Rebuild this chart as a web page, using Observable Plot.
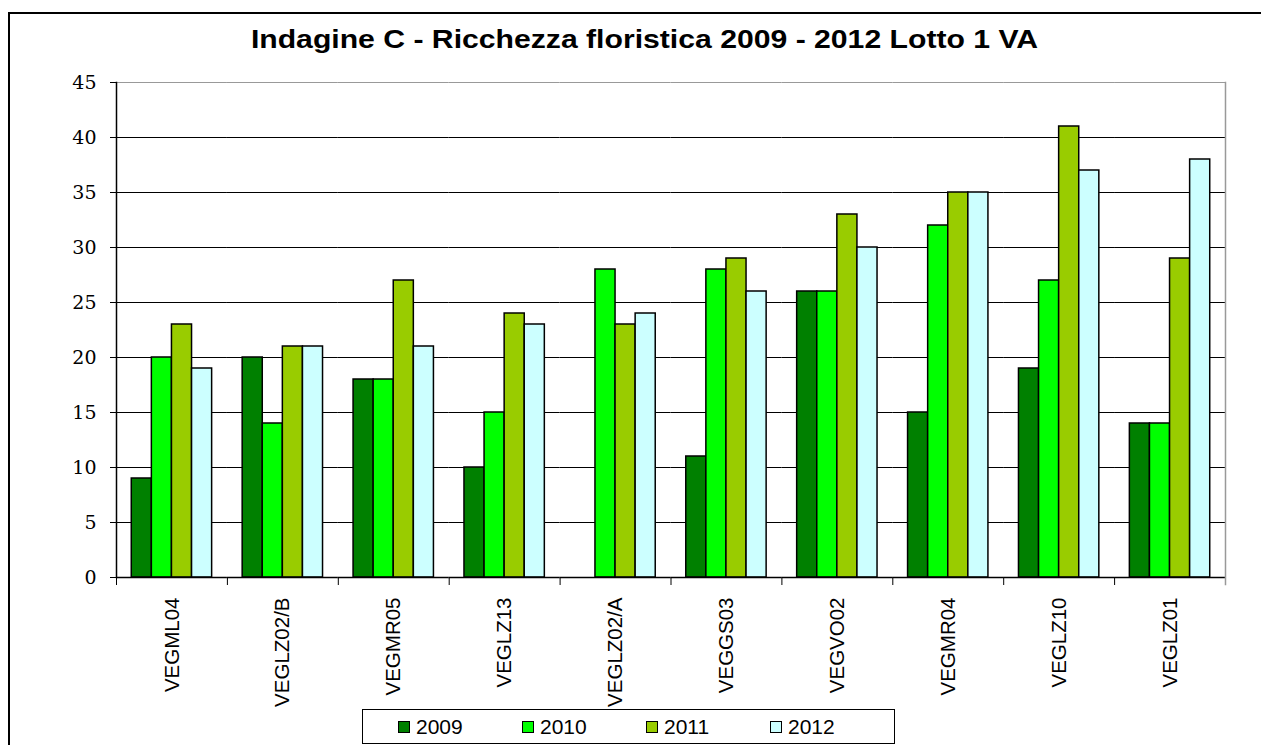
<!DOCTYPE html>
<html>
<head>
<meta charset="utf-8">
<script src="https://cdn.jsdelivr.net/npm/d3@7"></script>
<script src="https://cdn.jsdelivr.net/npm/@observablehq/plot@0.6"></script>
<style>
  html, body { margin: 0; padding: 0; background: #fff; overflow: hidden; }
  body { width: 1261px; height: 745px; position: relative; font-family: "Liberation Sans", Arial, sans-serif; }
  #border { position: absolute; left: 8px; top: 12px; width: 1253px; height: 733px; border-left: 2px solid #000; border-top: 2px solid #000; box-sizing: border-box; }
  #chart { position: absolute; left: 0; top: 0; }
  #title { position: absolute; left: 0; top: 26px; width: 1289px; text-align: center; font-weight: bold; font-size: 26px; line-height: 26px; transform: scaleX(1.16); transform-origin: center; color: #000; white-space: nowrap; }
  #legend { position: absolute; left: 362px; top: 709px; width: 533px; height: 35px; border: 1px solid #000; box-sizing: border-box; background: #fff; display: flex; align-items: center; padding-left: 35px; }
  .item { width: 134px; display: flex; align-items: center; font-size: 21px; line-height: 21px; color: #000; }
  .sw { width: 12px; height: 12px; border: 1px solid #000; box-sizing: border-box; margin-right: 6px; }
</style>
</head>
<body>
<div id="border"></div>
<div id="chart"></div>
<div id="title"></div>
<div id="legend"></div>
<script>
const title = "Indagine C - Ricchezza floristica 2009 - 2012 Lotto 1 VA";
const sites = ["VEGML04", "VEGLZ02/B", "VEGMR05", "VEGLZ13", "VEGLZ02/A", "VEGGS03", "VEGVO02", "VEGMR04", "VEGLZ10", "VEGLZ01"];
const years = ["2009", "2010", "2011", "2012"];
const v2009 = [9, 20, 18, 10, null, 11, 26, 15, 19, 14];
const v2010 = [20, 14, 18, 15, 28, 28, 26, 32, 27, 14];
const v2011 = [23, 21, 27, 24, 23, 29, 33, 35, 41, 29];
const v2012 = [19, 21, 21, 23, 24, 26, 30, 35, 37, 38];
const colors = ["#008000", "#00FF00", "#99CC00", "#CCFFFF"];
const yTicks = [0, 5, 10, 15, 20, 25, 30, 35, 40, 45];

const series = [v2009, v2010, v2011, v2012];
const data = sites.flatMap((s, i) => years.map((y, j) => ({site: s, year: y, value: series[j][i]})));

const W = 1261, H = 745;
const mTop = 82, mBottom = 168, mLeft = 116, mRight = 36;
const plotH = H - mTop - mBottom;

const chart = Plot.plot({
  width: W,
  height: H,
  marginTop: mTop,
  marginBottom: mBottom,
  marginLeft: mLeft,
  marginRight: mRight,
  style: {background: "transparent", color: "#000", overflow: "visible"},
  fx: {domain: sites, padding: 0, round: false},
  x: {domain: years, paddingInner: 0, paddingOuter: 0.76, round: false, axis: null},
  y: {domain: [0, 45]},
  color: {domain: years, range: colors},
  marks: [
    Plot.ruleY(yTicks.filter(d => d > 0 && d < 45), {stroke: "#000", strokeWidth: 1}),
    Plot.ruleY([45], {stroke: "#999", strokeWidth: 1}),
    Plot.barY(data, {fx: "site", x: "year", y: d => d.value, fill: "year", stroke: "#000", strokeWidth: 1.5}),
    Plot.ruleY([0], {stroke: "#000", strokeWidth: 1.5}),
    Plot.frame({anchor: "left", insetTop: plotH, insetBottom: -7, stroke: "#000", strokeWidth: 1}),
    Plot.frame({anchor: "left", facetAnchor: "left", stroke: "#000", strokeWidth: 1.5}),
    Plot.frame({anchor: "right", facetAnchor: "right", insetBottom: -7, stroke: "#999", strokeWidth: 1.5}),
    Plot.axisY({ticks: yTicks, tickSize: 6, tickPadding: 14, fontSize: 19, fontFamily: "DejaVu Serif", label: null, stroke: "#000"}),
    Plot.axisFx({anchor: "bottom", tickRotate: -90, tickSize: 0, tickPadding: 20, fontSize: 20.5, fontFamily: "Liberation Sans, Arial, sans-serif", label: null})
  ]
});
document.getElementById("chart").appendChild(chart);
document.getElementById("title").textContent = title;

const legend = document.getElementById("legend");
years.forEach((y, i) => {
  const it = document.createElement("div");
  it.className = "item";
  const sw = document.createElement("div");
  sw.className = "sw";
  sw.style.background = colors[i];
  const t = document.createElement("span");
  t.textContent = y;
  it.appendChild(sw);
  it.appendChild(t);
  legend.appendChild(it);
});
</script>
</body>
</html>
